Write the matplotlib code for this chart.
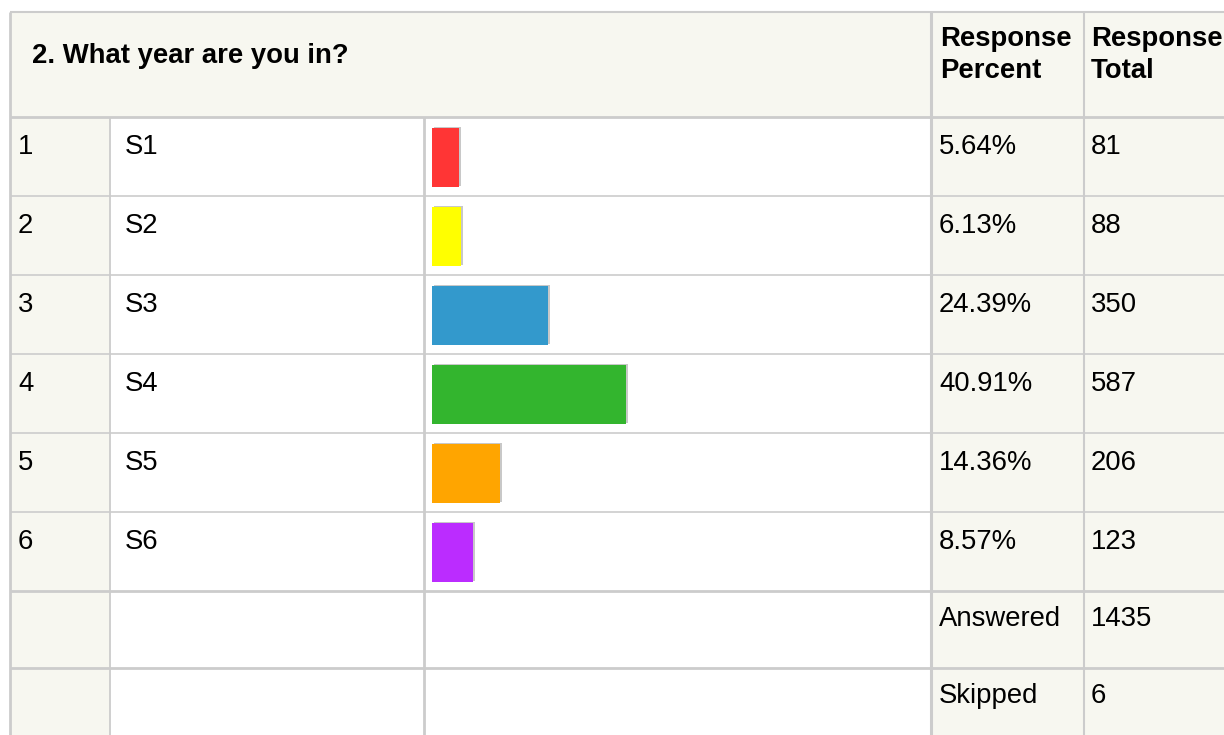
import matplotlib.pyplot as plt
from matplotlib.patches import Rectangle
import matplotlib.patheffects as pe

plt.rcParams["font.family"] = ["Liberation Sans", "DejaVu Sans"]

# Survey data
question = "2. What year are you in?"
ranks = [1, 2, 3, 4, 5, 6]
labels = ["S1", "S2", "S3", "S4", "S5", "S6"]
percents = [5.64, 6.13, 24.39, 40.91, 14.36, 8.57]
totals = [81, 88, 350, 587, 206, 123]
answered = 1435
skipped = 6
bar_colors = ["#ff3535", "#ffff00", "#3399cc", "#33b52e", "#ffa500", "#bb2cff"]

# Table geometry (pixels)
W, H = 1224, 735
cols = [10, 110, 424, 931, 1084]
head_top, head_bot = 12, 117
row_h = 79
row_tops = [head_bot + i * row_h for i in range(len(ranks))]
extra_tops = [row_tops[-1] + row_h, row_tops[-1] + row_h + 77]
beige = "#f7f7f0"
grid = "#cccccc"
fs = 19.8

fig = plt.figure(figsize=(W / 100, H / 100), dpi=100)
ax = fig.add_axes([0, 0, 1, 1])
ax.set_xlim(0, W)
ax.set_ylim(H, 0)
ax.axis("off")

# Backgrounds
ax.add_patch(Rectangle((cols[0], head_top), W, head_bot - head_top, color=beige, lw=0))
ax.add_patch(Rectangle((cols[0], head_bot), cols[1] - cols[0], H, color=beige, lw=0))
ax.add_patch(Rectangle((cols[3], head_bot), W, H, color=beige, lw=0))

# Grid lines
ax.hlines(head_top, cols[0], W, color=grid, lw=1.5)
ax.hlines(head_bot, cols[0], W, color=grid, lw=2)
for y in row_tops[1:]:
    ax.hlines(y, cols[0], W, color=grid, lw=1.2)
ax.hlines(extra_tops, cols[0], W, color=grid, lw=2)
ax.vlines(cols[0], head_top, H, color=grid, lw=2)
ax.vlines(cols[1], head_bot, H, color=grid, lw=1.3)
ax.vlines(cols[2], head_bot, H, color=grid, lw=2)
ax.vlines(cols[3], head_top, H, color=grid, lw=2.2)
ax.vlines(cols[4], head_top, H, color=grid, lw=1.5)

# Header
ax.text(32, 63, question, fontsize=fs, fontweight="bold", va="baseline", color="#000")
ax.text(cols[3] + 9, 46, "Response", fontsize=fs, fontweight="bold", va="baseline")
ax.text(cols[3] + 9, 78, "Percent", fontsize=fs, fontweight="bold", va="baseline")
ax.text(cols[4] + 7, 46, "Response", fontsize=fs, fontweight="bold", va="baseline")
ax.text(cols[4] + 7, 78, "Total", fontsize=fs, fontweight="bold", va="baseline")

# Body rows
for top, r, lab, p, t in zip(row_tops, ranks, labels, percents, totals):
    base = top + 37
    ax.text(18, base, str(r), fontsize=fs, va="baseline")
    ax.text(cols[1] + 15, base, lab, fontsize=fs, va="baseline")
    ax.text(cols[3] + 8, base, f"{p:.2f}%", fontsize=fs, va="baseline")
    ax.text(cols[4] + 7, base, str(t), fontsize=fs, va="baseline")

ax.text(cols[3] + 8, extra_tops[0] + 35, "Answered", fontsize=fs, va="baseline")
ax.text(cols[4] + 7, extra_tops[0] + 35, str(answered), fontsize=fs, va="baseline")
ax.text(cols[3] + 8, extra_tops[1] + 35, "Skipped", fontsize=fs, va="baseline")
ax.text(cols[4] + 7, extra_tops[1] + 35, str(skipped), fontsize=fs, va="baseline")

# Bar column: x in percent, y in rows
px_per_pct = 4.75
pad = 8
bx = fig.add_axes([cols[2] / W, 1 - row_tops[-1] / H - row_h / H,
                   (cols[3] - cols[2]) / W, len(ranks) * row_h / H])
bx.set_xlim(-pad / px_per_pct, (cols[3] - cols[2] - pad) / px_per_pct)
bx.set_ylim(len(ranks), 0)
bx.axis("off")
bx.patch.set_alpha(0)
ypos = [i + 0.513 for i in range(len(ranks))]
bars = bx.barh(ypos, percents, height=0.745, color=bar_colors, lw=0)
for b in bars:
    b.set_path_effects([
        pe.withSimplePatchShadow(offset=(1.4, 1.0), shadow_rgbFace="#c8c8c8", alpha=1.0),
        pe.Normal(),
    ])

fig.savefig("out.png", dpi=100)
